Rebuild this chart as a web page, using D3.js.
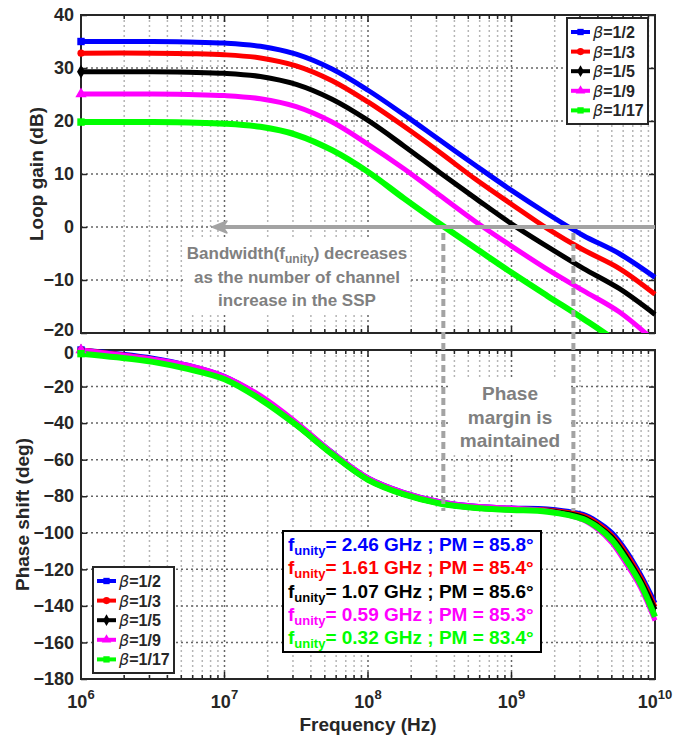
<!DOCTYPE html>
<html>
<head>
<meta charset="utf-8">
<script src="https://cdnjs.cloudflare.com/ajax/libs/d3/7.8.5/d3.min.js"></script>
<style>
  body { margin: 0; background: #fff; }
  text { font-family: "Liberation Sans", Arial, sans-serif; font-weight: bold; fill: #262626; }
</style>
</head>
<body>
<svg id="chart" width="688" height="737"></svg>
<script>
// ---- data ----
const betaLabels = ["1/2", "1/3", "1/5", "1/9", "1/17"];
const colors = ["#0000ff", "#ff0000", "#000000", "#ff00ff", "#00ff00"];

const gainFreqs = [1e6, 3.16e6, 5.62e6, 1e7, 1.78e7, 3.16e7, 5.62e7, 1e8, 1.78e8, 3.16e8, 5.62e8, 1e9, 1.78e9, 3.16e9, 5.62e9, 1e10];
const gainB2  = [35.0, 35.0, 34.9, 34.7, 34.1, 32.6, 29.8, 25.8, 21.2, 16.4, 11.6, 6.9, 2.5, -1.6, -5.0, -9.5];
const gainB3  = [32.8, 32.8, 32.7, 32.5, 31.9, 30.4, 27.6, 23.6, 19.0, 14.1, 9.0, 4.3, -0.3, -4.3, -7.8, -12.7];
const gainB5  = [29.3, 29.3, 29.2, 29.0, 28.4, 26.9, 24.1, 20.1, 15.3, 10.3, 5.4, 0.6, -3.7, -7.8, -11.6, -16.5];
const gainB9  = [25.1, 25.1, 25.0, 24.8, 24.2, 22.7, 19.8, 15.6, 11.0, 6.0, 1.0, -3.6, -8.0, -12.0, -16.0, -21.6];
const gainB17 = [19.8, 19.8, 19.7, 19.5, 18.9, 17.4, 14.5, 10.4, 5.4, 0.6, -4.0, -8.6, -13.0, -17.3, -22.0, -28.0];

const phaseFreqs = [1e6, 1.78e6, 3.16e6, 5.62e6, 1e7, 1.78e7, 3.16e7, 5.62e7, 1e8, 1.78e8, 3.16e8, 5.62e8, 1e9, 1.78e9, 3.16e9, 3.98e9, 5.01e9, 6.31e9, 7.94e9, 1e10];
const phaseB2  = [0, -2, -4.5, -8.5, -14.5, -25.5, -40, -56, -70, -78, -83, -85.5, -86.5, -87, -90, -94, -100, -110, -123, -138.5];
const phaseB3  = [0, -2.3, -5, -9, -15, -26, -40.5, -56.5, -70.5, -78.5, -83.5, -86, -87, -87.5, -90.8, -95, -101.5, -111.5, -124.5, -140.5];
const phaseB5  = [-0.5, -2.8, -5.5, -9.5, -15.5, -26.5, -41, -57, -71, -79, -84, -86.5, -87.5, -88, -91.5, -96, -102.5, -113, -126, -142];
const phaseB9  = [0, -2.5, -5, -8.5, -14.5, -25, -39.5, -56, -70, -78, -83, -85.5, -86.5, -88, -93, -98, -105.5, -117, -130, -148];
const phaseB17 = [-2, -4, -6.5, -10.5, -16, -27, -41, -57, -71, -79, -84, -86.5, -87.5, -88.5, -92.5, -97, -104, -115, -128, -146];

const gainTicks = [-20, -10, 0, 10, 20, 30, 40];
const phaseTicks = [-180, -160, -140, -120, -100, -80, -60, -40, -20, 0];
const decades = [1e6, 1e7, 1e8, 1e9, 1e10];
const fUnity = ["2.46", "1.61", "1.07", "0.59", "0.32"];
const phaseMargin = ["85.8", "85.4", "85.6", "85.3", "83.4"];
const markerFreqs = [3.35e8, 2.7e9];   // where the grey dashed guides stand

const gainSeries = [gainB2, gainB3, gainB5, gainB9, gainB17];
const phaseSeries = [phaseB2, phaseB3, phaseB5, phaseB9, phaseB17];
const symbols = [d3.symbolSquare, d3.symbolCircle, d3.symbolDiamond, d3.symbolTriangle, d3.symbolSquare];

// ---- layout ----
const svg = d3.select("#chart");
const left = 81, right = 655;
const x = d3.scaleLog().domain([1e6, 1e10]).range([left, right]);
const yGain = d3.scaleLinear().domain([-20, 40]).range([333, 15]);
const yPhase = d3.scaleLinear().domain([-180, 0]).range([679, 350]);

const minors = [];
decades.slice(0, 4).forEach(d => { for (let k = 2; k <= 9; k++) minors.push(d * k); });

const frameColor = "#262626";

function panel(y, yTicks, showX, clipId, clipTop, clipBottom) {
  const [y0, y1] = y.range();  // bottom, top
  const g = svg.append("g");

  // grid
  g.selectAll(".xminor").data(minors).join("line")
    .attr("x1", d => x(d)).attr("x2", d => x(d)).attr("y1", y1).attr("y2", y0)
    .attr("stroke", "#b5b5b5").attr("stroke-width", 1.5).attr("stroke-dasharray", "2,3");
  g.selectAll(".xmajor").data(decades.slice(1, 4)).join("line")
    .attr("x1", d => x(d)).attr("x2", d => x(d)).attr("y1", y1).attr("y2", y0)
    .attr("stroke", "#666").attr("stroke-width", 1.5).attr("stroke-dasharray", "2,3");
  g.selectAll(".ygrid").data(yTicks.slice(1, -1)).join("line")
    .attr("x1", left).attr("x2", right).attr("y1", d => y(d)).attr("y2", d => y(d))
    .attr("stroke", "#666").attr("stroke-width", 1.5).attr("stroke-dasharray", "2,3");

  // clip region (vertical only)
  svg.append("clipPath").attr("id", clipId).append("rect")
    .attr("x", 0).attr("y", clipTop).attr("width", 688).attr("height", clipBottom - clipTop);

  // left axis
  const ax = g.append("g").attr("transform", `translate(${left},0)`)
    .call(d3.axisLeft(y).tickValues(yTicks).tickSize(-6).tickPadding(7).tickFormat(d3.format("d")));
  ax.select(".domain").remove();
  ax.selectAll("line").attr("stroke", frameColor).attr("stroke-width", 1.5);
  ax.selectAll("text").style("font-size", "18px").attr("fill", frameColor).attr("font-family", null);

  const axr = g.append("g").attr("transform", `translate(${right},0)`)
    .call(d3.axisRight(y).tickValues(yTicks).tickSize(-6).tickFormat(""));
  axr.select(".domain").remove();
  axr.selectAll("line").attr("stroke", frameColor).attr("stroke-width", 1.5);

  // x ticks, inward on bottom and top
  [[y0, -1], [y1, 1]].forEach(([yy, dir]) => {
    g.selectAll(null).data(minors).join("line")
      .attr("x1", d => x(d)).attr("x2", d => x(d)).attr("y1", yy).attr("y2", yy + dir * 4)
      .attr("stroke", frameColor).attr("stroke-width", 1.5);
    g.selectAll(null).data(decades).join("line")
      .attr("x1", d => x(d)).attr("x2", d => x(d)).attr("y1", yy).attr("y2", yy + dir * 7)
      .attr("stroke", frameColor).attr("stroke-width", 1.5);
  });

  if (showX) {
    const lab = g.selectAll(".xlab").data(decades).join("text")
      .attr("x", d => x(d)).attr("y", y0 + 29).attr("text-anchor", "middle")
      .style("font-size", "18px");
    lab.append("tspan").text("10");
    lab.append("tspan").attr("dy", -9).style("font-size", "13px").text(d => Math.round(Math.log10(d)));
  }

  g.append("rect").attr("x", left).attr("y", y1).attr("width", right - left).attr("height", y0 - y1)
    .attr("fill", "none").attr("stroke", frameColor).attr("stroke-width", 2);
  return { g, ax };
}

function drawCurves(g, y, freqs, series, clipId) {
  const line = d3.line().x(d => x(d[0])).y(d => y(d[1])).curve(d3.curveCatmullRom.alpha(0.5));
  const cg = g.append("g").attr("clip-path", `url(#${clipId})`);
  series.forEach((vals, i) => {
    const pts = freqs.map((f, j) => [f, vals[j]]);
    cg.append("path").datum(pts).attr("d", line)
      .attr("fill", "none").attr("stroke", colors[i]).attr("stroke-width", i === 4 ? 6 : 5)
      .attr("stroke-linejoin", "round");
    g.append("path").attr("d", d3.symbol(symbols[i], i === 1 ? 40 : 55)())
      .attr("transform", `translate(${x(freqs[0])},${y(vals[0])})`).attr("fill", colors[i]);
  });
}

function legend(x0, y0) {
  const g = svg.append("g").attr("transform", `translate(${x0},${y0})`);
  g.append("rect").attr("width", 81).attr("height", 106).attr("fill", "#fff")
    .attr("stroke", frameColor).attr("stroke-width", 2);
  betaLabels.forEach((b, i) => {
    const yy = 14 + i * 19.6;
    g.append("line").attr("x1", 4).attr("x2", 23).attr("y1", yy).attr("y2", yy)
      .attr("stroke", colors[i]).attr("stroke-width", 4);
    g.append("path").attr("d", d3.symbol(symbols[i], 40)()).attr("transform", `translate(13.5,${yy})`)
      .attr("fill", colors[i]);
    const t = g.append("text").attr("x", 26).attr("y", yy + 6).style("font-size", "16px").attr("fill", "#000");
    t.append("tspan").style("font-style", "italic").style("font-weight", "normal").style("font-family", "'DejaVu Sans', sans-serif").text("β");
    t.append("tspan").text("=" + b);
  });
}

// ---- top: loop gain ----
const gainPanel = panel(yGain, gainTicks, false, "clipTop", 9, 333);
drawCurves(gainPanel.g, yGain, gainFreqs, gainSeries, "clipTop");

// ---- bottom: phase ----
const phasePanel = panel(yPhase, phaseTicks, true, "clipBot", 340, 690);
drawCurves(phasePanel.g, yPhase, phaseFreqs, phaseSeries, "clipBot");

// the "-20" and "0" labels where the two panels meet sit very close: nudge them apart
gainPanel.ax.selectAll(".tick").filter(d => d === -20).select("text").attr("dy", "0.12em");
phasePanel.ax.selectAll(".tick").filter(d => d === 0).select("text").attr("dy", "0.45em");

// axis titles
svg.append("text").attr("transform", `translate(43,${(15 + 333) / 2}) rotate(-90)`)
  .attr("text-anchor", "middle").style("font-size", "19px").text("Loop gain (dB)");
svg.append("text").attr("transform", `translate(29,${(350 + 679) / 2}) rotate(-90)`)
  .attr("text-anchor", "middle").style("font-size", "19px").text("Phase shift (deg)");
svg.append("text").attr("x", (left + right) / 2).attr("y", 731).attr("text-anchor", "middle")
  .style("font-size", "19px").text("Frequency (Hz)");

// ---- grey annotations ----
const grey = "#a3a3a3";
svg.append("rect").attr("x", 184).attr("y", 237).attr("width", 226).attr("height", 75).attr("fill", "#fff");
svg.append("rect").attr("x", 451).attr("y", 380).attr("width", 120).attr("height", 75).attr("fill", "#fff");

// arrow along 0 dB
const arrowTip = 212;
svg.append("line").attr("x1", right).attr("x2", arrowTip + 12).attr("y1", yGain(0)).attr("y2", yGain(0))
  .attr("stroke", grey).attr("stroke-width", 4);
svg.append("path")
  .attr("d", `M${arrowTip},${yGain(0)} L${arrowTip + 15},${yGain(0) - 6} L${arrowTip + 11},${yGain(0)} L${arrowTip + 15},${yGain(0) + 6} Z`)
  .attr("fill", grey).attr("stroke", grey).attr("stroke-width", 1.5).attr("stroke-linejoin", "round");

// dashed guides
svg.selectAll(".guide").data(markerFreqs).join("line")
  .attr("x1", d => x(d)).attr("x2", d => x(d)).attr("y1", yGain(0) + 6).attr("y2", 511)
  .attr("stroke", grey).attr("stroke-width", 4).attr("stroke-dasharray", "7,4");

const bw = svg.append("g");
const bw1 = bw.append("text").attr("x", 297).attr("y", 259).attr("text-anchor", "middle")
  .style("font-size", "17px").style("fill", "#808080");
bw1.append("tspan").text("Bandwidth(f");
bw1.append("tspan").attr("dy", 4).style("font-size", "12px").text("unity");
bw1.append("tspan").attr("dy", -4).text(") decreases");
["as the number of channel", "increase in the SSP"].forEach((s, i) => {
  bw.append("text").attr("x", 297).attr("y", 283 + i * 23).attr("text-anchor", "middle")
    .style("font-size", "17px").style("fill", "#808080").text(s);
});
["Phase", "margin is", "maintained"].forEach((s, i) => {
  svg.append("text").attr("x", 510).attr("y", 400 + i * 23.5).attr("text-anchor", "middle")
    .style("font-size", "19px").style("fill", "#808080").text(s);
});

// ---- legends ----
legend(567, 18);
legend(93, 567);

// ---- f_unity / PM box ----
const box = svg.append("g").attr("transform", "translate(283,531)");
box.append("rect").attr("width", 258).attr("height", 121).attr("fill", "#fff")
  .attr("stroke", "#000").attr("stroke-width", 2);
fUnity.forEach((f, i) => {
  const t = box.append("text").attr("x", 5).attr("y", 20 + i * 23.3)
    .style("font-size", "19px").style("fill", colors[i]);
  t.append("tspan").text("f");
  t.append("tspan").attr("dy", 4).style("font-size", "13px").text("unity");
  t.append("tspan").attr("dy", -4).text(`= ${f} GHz ; PM = ${phaseMargin[i]}°`);
});
</script>
</body>
</html>
